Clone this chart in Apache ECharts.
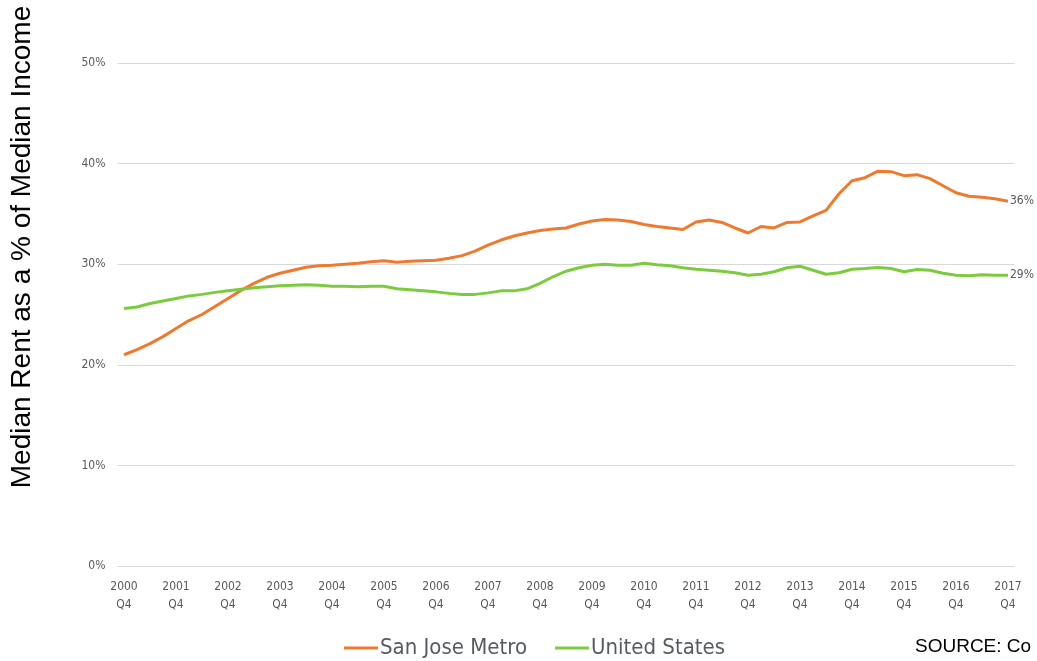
<!DOCTYPE html>
<html>
<head>
<meta charset="utf-8">
<style>
  html, body { margin: 0; padding: 0; background: #fff; }
  #chart { width: 1037px; height: 661px; }
</style>
<script src="https://cdn.jsdelivr.net/npm/echarts@6/dist/echarts.min.js"></script>
</head>
<body>
<div id="chart"></div>
<script>
// quarters 2000 Q4 .. 2017 Q4
var quarters = ['2000 Q4'];
for (var y = 2001; y <= 2017; y++) {
  ['Q1', 'Q2', 'Q3', 'Q4'].forEach(function (q) { quarters.push(y + ' ' + q); });
}

var yTicks = [0, 10, 20, 30, 40, 50];

var sanJose = [
  21.0, 21.5, 22.1, 22.8, 23.6, 24.4, 25.0, 25.8, 26.6, 27.4,
  28.1, 28.7, 29.1, 29.4, 29.7, 29.85, 29.9, 30.0, 30.1, 30.25,
  30.35, 30.2, 30.3, 30.35, 30.4, 30.6, 30.85, 31.3, 31.9, 32.4,
  32.8, 33.1, 33.35, 33.5, 33.6, 34.0, 34.3, 34.45, 34.4, 34.25,
  33.95, 33.75, 33.6, 33.45, 34.2, 34.4, 34.15, 33.6, 33.1, 33.75,
  33.6, 34.15, 34.2, 34.8, 35.35, 37.0, 38.3, 38.6, 39.25, 39.2,
  38.8, 38.9, 38.5, 37.8, 37.1, 36.75, 36.65, 36.5, 36.25
];

var unitedStates = [
  25.6, 25.75, 26.1, 26.35, 26.6, 26.85, 27.0, 27.2, 27.35, 27.5,
  27.65, 27.75, 27.85, 27.9, 27.95, 27.9, 27.8, 27.8, 27.75, 27.8,
  27.8, 27.55, 27.45, 27.35, 27.25, 27.1, 27.0, 27.0, 27.15, 27.35,
  27.35, 27.55, 28.1, 28.75, 29.3, 29.65, 29.9, 30.0, 29.9, 29.9,
  30.1, 29.95, 29.85, 29.65, 29.5, 29.4, 29.3, 29.15, 28.9, 29.0,
  29.25, 29.65, 29.8, 29.4, 29.0, 29.15, 29.5, 29.57, 29.67, 29.57,
  29.25, 29.47, 29.4, 29.1, 28.9, 28.85, 28.95, 28.9, 28.9
];

var ORANGE = '#EE7A2E';
var GREEN = '#7CCB3F';
var GREY = '#595959';
var narrow = "'Liberation Sans Narrow', 'DejaVu Sans Condensed', sans-serif";

var chart = echarts.init(document.getElementById('chart'));

var endLabel = {
  show: true,
  color: GREY,
  fontSize: 12,
  fontFamily: narrow,
  distance: 2,
  formatter: function (p) { return Math.round(p.value) + '%'; }
};

chart.setOption({
  animation: false,
  grid: { left: 117.5, right: 22.5, top: 63, bottom: 95 },
  xAxis: {
    type: 'category',
    boundaryGap: true,
    data: quarters,
    axisLine: { show: false },
    axisTick: { show: false },
    axisLabel: {
      interval: 3,
      margin: 12,
      color: GREY,
      fontSize: 12,
      fontFamily: narrow,
      lineHeight: 18,
      formatter: function (v) { return v.replace(' ', '\n'); }
    }
  },
  yAxis: {
    type: 'value',
    min: yTicks[0],
    max: yTicks[yTicks.length - 1],
    interval: 10,
    axisLine: { show: false },
    axisTick: { show: false },
    splitLine: { lineStyle: { color: '#D9D9D9', width: 1 } },
    axisLabel: {
      margin: 12,
      color: GREY,
      fontSize: 12,
      fontFamily: narrow,
      formatter: '{value}%'
    }
  },
  legend: {
    top: 637,
    left: 344,
    padding: 0,
    icon: 'rect',
    itemWidth: 34,
    itemHeight: 3,
    itemGap: 28,
    textStyle: { fontSize: 22, color: '#555A63', fontFamily: narrow, padding: [0, 0, 0, -3] },
    data: ['San Jose Metro', 'United States']
  },
  graphic: [
    {
      type: 'text',
      x: 22,
      y: 247,
      rotation: Math.PI / 2,
      style: {
        text: 'Median Rent as a % of Median Income',
        font: '28px "Liberation Sans", Arial, sans-serif',
        fill: '#000',
        textAlign: 'center',
        textVerticalAlign: 'middle'
      }
    },
    {
      type: 'text',
      x: 915,
      y: 647,
      style: {
        text: 'SOURCE: Co',
        font: '19px "Liberation Sans", Arial, sans-serif',
        fill: '#000',
        textAlign: 'left',
        textVerticalAlign: 'middle'
      }
    }
  ],
  series: [
    {
      name: 'San Jose Metro',
      type: 'line',
      data: sanJose,
      showSymbol: false,
      symbol: 'none',
      lineStyle: { color: ORANGE, width: 3 },
      itemStyle: { color: ORANGE },
      endLabel: endLabel
    },
    {
      name: 'United States',
      type: 'line',
      data: unitedStates,
      showSymbol: false,
      symbol: 'none',
      lineStyle: { color: GREEN, width: 3 },
      itemStyle: { color: GREEN },
      endLabel: endLabel
    }
  ]
});
</script>
</body>
</html>
